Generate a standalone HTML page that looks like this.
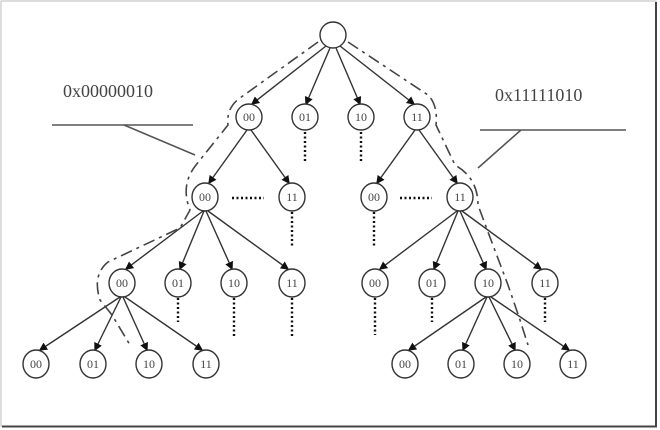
<!DOCTYPE html>
<html><head><style>
html,body{margin:0;padding:0;background:#fff;}
svg{display:block;}
text{font-family:"Liberation Serif",serif;fill:#444;}
</style></head><body>
<svg width="660" height="430" viewBox="0 0 660 430">
<rect x="1" y="1" width="655" height="425" fill="#fff" stroke="#bbb" stroke-width="1"/>
<line x1="656" y1="2" x2="656" y2="427" stroke="#444" stroke-width="2"/>
<line x1="2" y1="426.5" x2="657" y2="426.5" stroke="#444" stroke-width="2"/>
<defs><marker id="a" markerWidth="6" markerHeight="6" refX="5" refY="3" orient="auto"><path d="M0,0L6,3L0,6z" fill="#111"/></marker></defs>
<g stroke="#333" stroke-width="1.4" fill="none" marker-end="url(#a)">
<line x1="326" y1="46" x2="252" y2="104"/><line x1="330" y1="48" x2="306" y2="104"/>
<line x1="336" y1="48" x2="360" y2="104"/><line x1="340" y1="46" x2="414" y2="104"/>
<line x1="247" y1="130" x2="209" y2="183"/><line x1="251" y1="130" x2="289" y2="183"/>
<line x1="415" y1="130" x2="377" y2="183"/><line x1="419" y1="130" x2="457" y2="183"/>
<line x1="203" y1="211" x2="126" y2="269"/><line x1="204" y1="211" x2="180" y2="269"/>
<line x1="206" y1="211" x2="232" y2="269"/><line x1="208" y1="211" x2="288" y2="269"/>
<line x1="457" y1="211" x2="380" y2="269"/><line x1="458" y1="211" x2="434" y2="269"/>
<line x1="460" y1="211" x2="486" y2="269"/><line x1="462" y1="211" x2="541" y2="269"/>
<line x1="120" y1="297" x2="40" y2="350"/><line x1="121" y1="297" x2="95" y2="350"/>
<line x1="123" y1="297" x2="147" y2="350"/><line x1="125" y1="297" x2="202" y2="350"/>
<line x1="486" y1="297" x2="409" y2="350"/><line x1="487" y1="297" x2="463" y2="350"/>
<line x1="489" y1="297" x2="515" y2="350"/><line x1="491" y1="297" x2="569" y2="350"/>
</g>
<g stroke="#333" stroke-width="1.4" fill="#fff">
<circle cx="333" cy="35" r="13"/>
<ellipse cx="249" cy="117" rx="13" ry="13"/><ellipse cx="305" cy="117" rx="13" ry="13"/><ellipse cx="361" cy="117" rx="13" ry="13"/><ellipse cx="417" cy="117" rx="13" ry="13"/>
<ellipse cx="205" cy="197" rx="13" ry="14"/><ellipse cx="292" cy="197" rx="13" ry="14"/><ellipse cx="374" cy="197" rx="13" ry="14"/><ellipse cx="460" cy="197" rx="13" ry="14"/>
<ellipse cx="122" cy="283" rx="13" ry="14"/><ellipse cx="178" cy="283" rx="13" ry="14"/><ellipse cx="234" cy="283" rx="13" ry="14"/><ellipse cx="292" cy="283" rx="13" ry="14"/>
<ellipse cx="375" cy="283" rx="13" ry="14"/><ellipse cx="432" cy="283" rx="13" ry="14"/><ellipse cx="488" cy="283" rx="13" ry="14"/><ellipse cx="545" cy="283" rx="13" ry="14"/>
<ellipse cx="36" cy="364" rx="13" ry="14"/><ellipse cx="93" cy="364" rx="13" ry="14"/><ellipse cx="149" cy="364" rx="13" ry="14"/><ellipse cx="206" cy="364" rx="13" ry="14"/>
<ellipse cx="405" cy="364" rx="13" ry="14"/><ellipse cx="461" cy="364" rx="13" ry="14"/><ellipse cx="517" cy="364" rx="13" ry="14"/><ellipse cx="573" cy="364" rx="13" ry="14"/>
</g>
<g font-size="12" text-anchor="middle">
<text x="249" y="121">00</text><text x="305" y="121">01</text><text x="361" y="121">10</text><text x="417" y="121">11</text>
<text x="205" y="201">00</text><text x="292" y="201">11</text><text x="374" y="201">00</text><text x="460" y="201">11</text>
<text x="122" y="287">00</text><text x="178" y="287">01</text><text x="234" y="287">10</text><text x="292" y="287">11</text>
<text x="375" y="287">00</text><text x="432" y="287">01</text><text x="488" y="287">10</text><text x="545" y="287">11</text>
<text x="36" y="368">00</text><text x="93" y="368">01</text><text x="149" y="368">10</text><text x="206" y="368">11</text>
<text x="405" y="368">00</text><text x="461" y="368">01</text><text x="517" y="368">10</text><text x="573" y="368">11</text>
</g>
<g stroke="#111" stroke-width="2.4" stroke-dasharray="2,2.5" fill="none">
<line x1="305" y1="132" x2="305" y2="162"/><line x1="361" y1="132" x2="361" y2="162"/>
<line x1="292" y1="212" x2="292" y2="246"/><line x1="374" y1="212" x2="374" y2="246"/>
<line x1="232" y1="198" x2="264" y2="198"/><line x1="400" y1="198" x2="432" y2="198"/>
<line x1="178" y1="298" x2="178" y2="322"/><line x1="234" y1="298" x2="234" y2="338"/><line x1="292" y1="298" x2="292" y2="338"/>
<line x1="375" y1="298" x2="375" y2="335"/><line x1="432" y1="298" x2="432" y2="322"/><line x1="545" y1="298" x2="545" y2="322"/>
</g>
<g stroke="#444" stroke-width="1.6" fill="none" stroke-dasharray="12,5,3,5">
<path d="M318,42 L240,98 Q226,108 228,125 L196,165 Q180,185 190,210 L180,228 L108,262 Q92,275 100,300 L112,315 L130,345"/>
<path d="M348,42 L428,95 Q438,105 436,125 L455,165 Q478,178 478,205 L488,232 L508,285 L520,320 L528,345"/>
</g>
<g stroke="#555" stroke-width="1.6">
<line x1="52" y1="125" x2="193" y2="125"/><line x1="124" y1="125" x2="195" y2="155"/>
<line x1="480" y1="130" x2="626" y2="130"/><line x1="521" y1="130" x2="478" y2="168"/>
</g>
<text x="63" y="97" font-size="18">0x00000010</text>
<text x="495" y="101" font-size="18">0x11111010</text>
</svg>
</body></html>
